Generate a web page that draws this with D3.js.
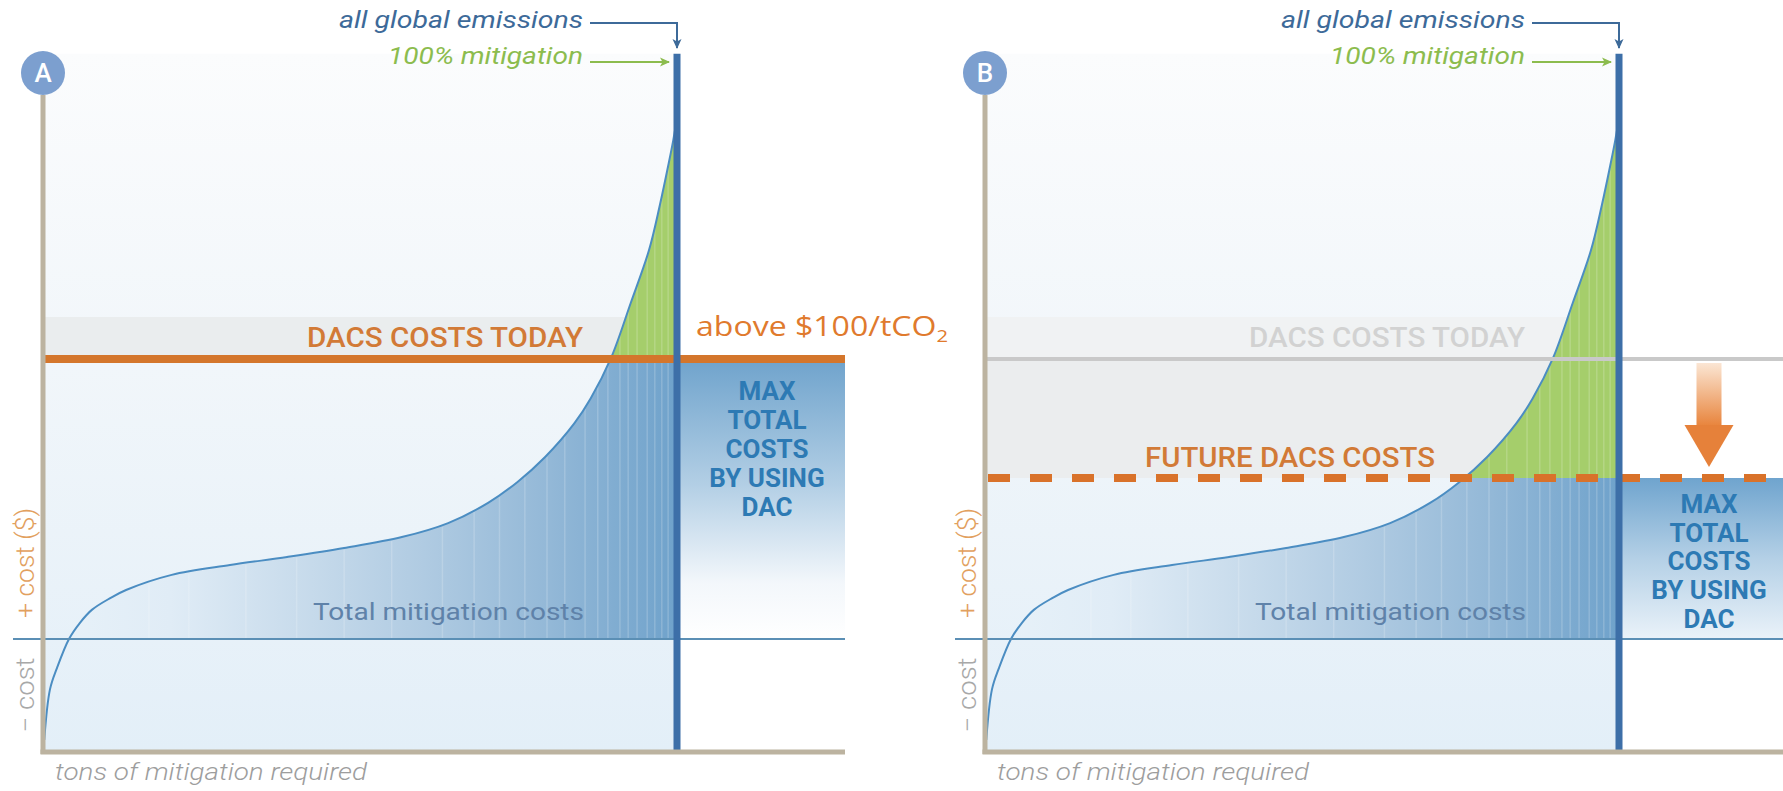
<!DOCTYPE html>
<html><head><meta charset="utf-8">
<script src="https://cdn.jsdelivr.net/npm/d3@7"></script>
<style>html,body{margin:0;padding:0;background:#fff;} svg{display:block;font-family:Roboto,"Noto Sans",sans-serif;}</style>
</head><body>
<svg id="chart" width="1783" height="791"></svg>
<script>
// ---------------- DATA ----------------
const panelIds = ["A", "B"];
// marginal abatement cost curve: cumulative mitigation (% of all global emissions) vs cost ($/tCO2)
const curveX = [0.2, 1.1, 2.2, 4.1, 5.8, 7.7, 10.6, 13.1, 20.3, 29.5, 38.5, 47.5, 56.6, 63.9, 70.2, 74.8, 79.2, 83.8, 86.4, 89.6, 92.7, 95.6, 97.3, 98.7, 99.4, 100];
const curveY = [-36, -18, -10.4, 0, 5.7, 10.4, 14.6, 17.5, 22.9, 26.4, 29.3, 32.5, 36.4, 41.4, 48.6, 56, 65, 77, 86, 100.4, 120, 139, 155, 170, 178, 186];
const dacsToday = 100;     // $/tCO2
const dacsFuture = 57.5;   // $/tCO2
const bandTop = 115;
const stripeX = [16.7, 23, 32, 40, 47.5, 55, 63, 68, 72, 76, 79.5, 82.3, 85.5, 87.5, 89.1, 91, 92.3, 93.7, 95.3, 96.5, 97.6, 98.6];
const maxLabel = ["MAX", "TOTAL", "COSTS", "BY USING", "DAC"];
const labelEmissions = "all global emissions";
const labelMitigation = "100% mitigation";
const labelToday = "DACS COSTS TODAY";
const labelFuture = "FUTURE DACS COSTS";
const labelTotal = "Total mitigation costs";
const labelXAxis = "tons of mitigation required";
const labelPlus = "+ cost ($)";
const labelMinus = "\u2212 cost";

// ---------------- DRAW ----------------
const W = 1783, H = 791;
const svg = d3.select("#chart");
const defs = svg.append("defs");

function linGrad(id, x1, y1, x2, y2, stops, units) {
  const gr = defs.append("linearGradient").attr("id", id)
    .attr("x1", x1).attr("y1", y1).attr("x2", x2).attr("y2", y2);
  if (units) gr.attr("gradientUnits", units);
  stops.forEach(s => gr.append("stop").attr("offset", s[0]).attr("stop-color", s[1]).attr("stop-opacity", s[2] == null ? 1 : s[2]));
}
function marker(id, color) {
  defs.append("marker").attr("id", id).attr("viewBox", "0 0 10 10")
    .attr("refX", 9).attr("refY", 5).attr("markerWidth", 10).attr("markerHeight", 10)
    .attr("markerUnits", "userSpaceOnUse").attr("orient", "auto")
    .append("path").attr("d", "M0,0.5 L10,5 L0,9.5 L2.5,5 Z").attr("fill", color);
}
marker("arrBlue", "#3d6a99");
marker("arrGreen", "#8cbc4e");

linGrad("bgGrad", 0, 0, 0, 1, [[0, "#fbfcfd"], [0.45, "#f1f6fa"], [1, "#e3eff8"]]);
linGrad("maxGradA", 0, 0, 0, 1, [[0, "#6fa3cc"], [0.45, "#b3cfe5"], [0.8, "#f3f7fb"], [1, "#ffffff"]]);
linGrad("maxGradB", 0, 0, 0, 1, [[0, "#6fa4ce"], [0.5, "#b4d0e6"], [1, "#eaf2f9"]]);
linGrad("arrowGrad", 0, 0, 0, 1, [[0, "#fbe6d4"], [1, "#e8843c"]]);

const PANEL_GAP = 942;
const pts = curveX.map((v, k) => [v, curveY[k]]);

function curveAt(v) {
  for (let k = 1; k < curveX.length; k++) {
    if (v <= curveX[k]) {
      const t = (v - curveX[k - 1]) / (curveX[k] - curveX[k - 1]);
      return curveY[k - 1] + t * (curveY[k] - curveY[k - 1]);
    }
  }
  return curveY[curveY.length - 1];
}
const smooth = d3.curveCatmullRom.alpha(0.5);

panelIds.forEach((pid, i) => {
  const off = i * PANEL_GAP;
  const x = d3.scaleLinear().domain([0, 100]).range([43 + off, 677 + off]);
  const y = d3.scaleLinear().domain([-40, 210]).range([751, 51]);
  const right = i === 0 ? 845 : W;
  const level = i === 0 ? dacsToday : dacsFuture;
  const x0 = x(0), x100 = x(100);
  const g = svg.append("g");

  linGrad("blueGrad" + pid, x0, 0, x100, 0,
    [[0, "#e8f2f9"], [0.2, "#e0ecf6"], [0.4, "#c9dcec"], [0.6, "#b0cbe2"], [0.8, "#93b8d7"], [1, "#6fa2cb"]], "userSpaceOnUse");

  const clip = (name, x1, y1, x2, y2) => {
    defs.append("clipPath").attr("id", name + pid).append("rect")
      .attr("x", x1).attr("y", y1).attr("width", x2 - x1).attr("height", y2 - y1);
    return "url(#" + name + pid + ")";
  };

  const areaUnder = d3.area().x(d => x(d[0])).y0(y(0)).y1(d => y(d[1])).curve(smooth);
  const areaAbove = d3.area().x(d => x(d[0])).y0(d => y(d[1])).y1(y(210)).curve(smooth);
  const line = d3.line().x(d => x(d[0])).y(d => y(d[1])).curve(smooth);

  // background
  g.append("rect").attr("x", x0).attr("y", y(209)).attr("width", x100 - x0).attr("height", y(-40) - y(209))
    .attr("fill", "url(#bgGrad)");

  // gray bands left of curve
  g.append("path").attr("d", areaAbove(pts)).attr("fill", i === 0 ? "#eaedee" : "#f0f2f3")
    .attr("clip-path", clip("bandUp", x0, y(bandTop), x100, y(dacsToday)));
  if (i === 1) {
    g.append("path").attr("d", areaAbove(pts)).attr("fill", "#ebedee")
      .attr("clip-path", clip("bandLow", x0, y(dacsToday), x100, y(dacsFuture)));
  }

  // total mitigation cost area (blue) and excess area (green)
  g.append("path").attr("d", areaUnder(pts)).attr("fill", "url(#blueGrad" + pid + ")")
    .attr("clip-path", clip("blue", x0, y(level), x100, y(0)));
  g.append("path").attr("d", areaUnder(pts)).attr("fill", "#a5ce6b")
    .attr("clip-path", clip("green", x0, y(210), x100, y(level)));

  // abatement option stripes
  g.selectAll(".stripe").data(stripeX).join("line")
    .attr("x1", d => x(d)).attr("x2", d => x(d))
    .attr("y1", y(0)).attr("y2", d => y(curveAt(d)) + 2)
    .attr("stroke", "#ffffff").attr("stroke-opacity", 0.18).attr("stroke-width", 1.5);

  // max total cost box
  g.append("rect").attr("x", x100).attr("y", y(level)).attr("width", right - x100).attr("height", y(0) - y(level))
    .attr("fill", "url(#maxGrad" + pid + ")");

  // curve
  g.append("path").attr("d", line(pts)).attr("fill", "none").attr("stroke", "#4b8dc2").attr("stroke-width", 2);

  // zero line
  g.append("line").attr("x1", x0 - 30).attr("x2", right).attr("y1", y(0)).attr("y2", y(0))
    .attr("stroke", "#5b8fb5").attr("stroke-width", 2);

  // DACS level lines
  if (i === 0) {
    g.append("line").attr("x1", x0).attr("x2", right).attr("y1", y(dacsToday)).attr("y2", y(dacsToday))
      .attr("stroke", "#d4762c").attr("stroke-width", 8);
  } else {
    g.append("line").attr("x1", x0).attr("x2", right).attr("y1", y(dacsToday)).attr("y2", y(dacsToday))
      .attr("stroke", "#c9c9c9").attr("stroke-width", 4);
    g.append("line").attr("x1", x0 + 3).attr("x2", right).attr("y1", y(dacsFuture)).attr("y2", y(dacsFuture))
      .attr("stroke", "#d9722a").attr("stroke-width", 8).attr("stroke-dasharray", "22 20");
    const ax = x100 + 90;
    const headTop = y(dacsFuture) - 53;
    g.append("rect").attr("x", ax - 12.5).attr("y", y(dacsToday) + 4).attr("width", 25).attr("height", headTop - y(dacsToday) - 3)
      .attr("fill", "url(#arrowGrad)");
    g.append("path").attr("d", `M${ax - 24.5},${headTop} L${ax + 24.5},${headTop} L${ax},${y(dacsFuture) - 11} Z`)
      .attr("fill", "#e6813a");
  }

  // all global emissions vertical line
  g.append("line").attr("x1", x100).attr("x2", x100).attr("y1", y(209)).attr("y2", y(-40) + 1)
    .attr("stroke", "#3d6fa8").attr("stroke-width", 7);

  // axes
  g.append("line").attr("x1", x0).attr("x2", x0).attr("y1", 95).attr("y2", y(-40) + 3)
    .attr("stroke", "#bcb3a0").attr("stroke-width", 5);
  g.append("line").attr("x1", x0 - 2.5).attr("x2", right).attr("y1", y(-40) + 1).attr("y2", y(-40) + 1)
    .attr("stroke", "#bcb3a0").attr("stroke-width", 5);

  // panel letter circle
  g.append("circle").attr("cx", x0).attr("cy", 73).attr("r", 22).attr("fill", "#7c9fcf");
  g.append("text").attr("x", x0).attr("y", 73).attr("dy", "0.36em").attr("text-anchor", "middle")
    .attr("fill", "#ffffff").attr("font-size", 26).attr("font-weight", 500).text(pid);

  const tx = (sx, sy, txt, opts) => {
    const t = g.append("text").attr("x", sx).attr("y", sy).text(txt);
    Object.entries(opts).forEach(([k, v]) => t.attr(k, v));
    return t;
  };
  tx(583 + off, 28, labelEmissions, {"text-anchor": "end", "font-style": "italic", "font-size": 23, fill: "#3d6a99", textLength: 244, lengthAdjust: "spacingAndGlyphs"});
  tx(583 + off, 64, labelMitigation, {"text-anchor": "end", "font-style": "italic", "font-size": 23, fill: "#8cbc4e", textLength: 195, lengthAdjust: "spacingAndGlyphs"});
  g.append("path").attr("d", `M${590 + off},23 H${x100} V48`).attr("fill", "none")
    .attr("stroke", "#3d6a99").attr("stroke-width", 2).attr("marker-end", "url(#arrBlue)");
  g.append("path").attr("d", `M${590 + off},62 H${x100 - 8}`).attr("fill", "none")
    .attr("stroke", "#8cbc4e").attr("stroke-width", 2).attr("marker-end", "url(#arrGreen)");

  tx(583 + off, 347, labelToday, {"text-anchor": "end", "font-size": 28, "font-weight": 500,
    fill: i === 0 ? "#d27a36" : "#d2d2d2", textLength: 276, lengthAdjust: "spacingAndGlyphs"});
  if (i === 1) {
    tx(1435, 467, labelFuture, {"text-anchor": "end", "font-size": 28, "font-weight": 500,
      fill: "#d27a36", textLength: 290, lengthAdjust: "spacingAndGlyphs"});
  }

  tx(313 + off, 620, labelTotal, {"font-size": 24, fill: "#5f82a9", textLength: 271, lengthAdjust: "spacingAndGlyphs"});

  const mBase = i === 0 ? y(dacsToday) + 41 : y(dacsFuture) + 35;
  const mStep = i === 0 ? 29 : 28.7;
  g.selectAll(".maxlbl").data(maxLabel).join("text")
    .attr("x", x100 + 90).attr("y", (d, k) => mBase + k * mStep)
    .attr("text-anchor", "middle").attr("font-size", 26).attr("font-weight", 700)
    .attr("fill", "#2d7ab4").text(d => d);

  g.append("text").attr("transform", `translate(${34 + off},563) rotate(-90)`).attr("text-anchor", "middle")
    .attr("font-size", 25).attr("font-weight", 300).attr("fill", "#e2a05e")
    .attr("textLength", 110).attr("lengthAdjust", "spacingAndGlyphs").text(labelPlus);
  g.append("text").attr("transform", `translate(${34 + off},695) rotate(-90)`).attr("text-anchor", "middle")
    .attr("font-size", 25).attr("font-weight", 300).attr("fill", "#a8a8a8")
    .attr("textLength", 75).attr("lengthAdjust", "spacingAndGlyphs").text(labelMinus);
  tx(55 + off, 780, labelXAxis, {"font-size": 24, "font-style": "italic", "font-weight": 300, fill: "#9d9d9d",
    textLength: 312, lengthAdjust: "spacingAndGlyphs"});
});

// price annotation
const ann = svg.append("text").attr("x", 696).attr("y", 336).attr("font-family", "'Open Sans', sans-serif")
  .attr("font-size", 27).attr("fill", "#e07a2d").attr("textLength", 252).attr("lengthAdjust", "spacingAndGlyphs");
ann.append("tspan").text("above $" + dacsToday + "/tCO");
ann.append("tspan").attr("font-size", 17).attr("dy", 6).text("2");
</script>
</body></html>
